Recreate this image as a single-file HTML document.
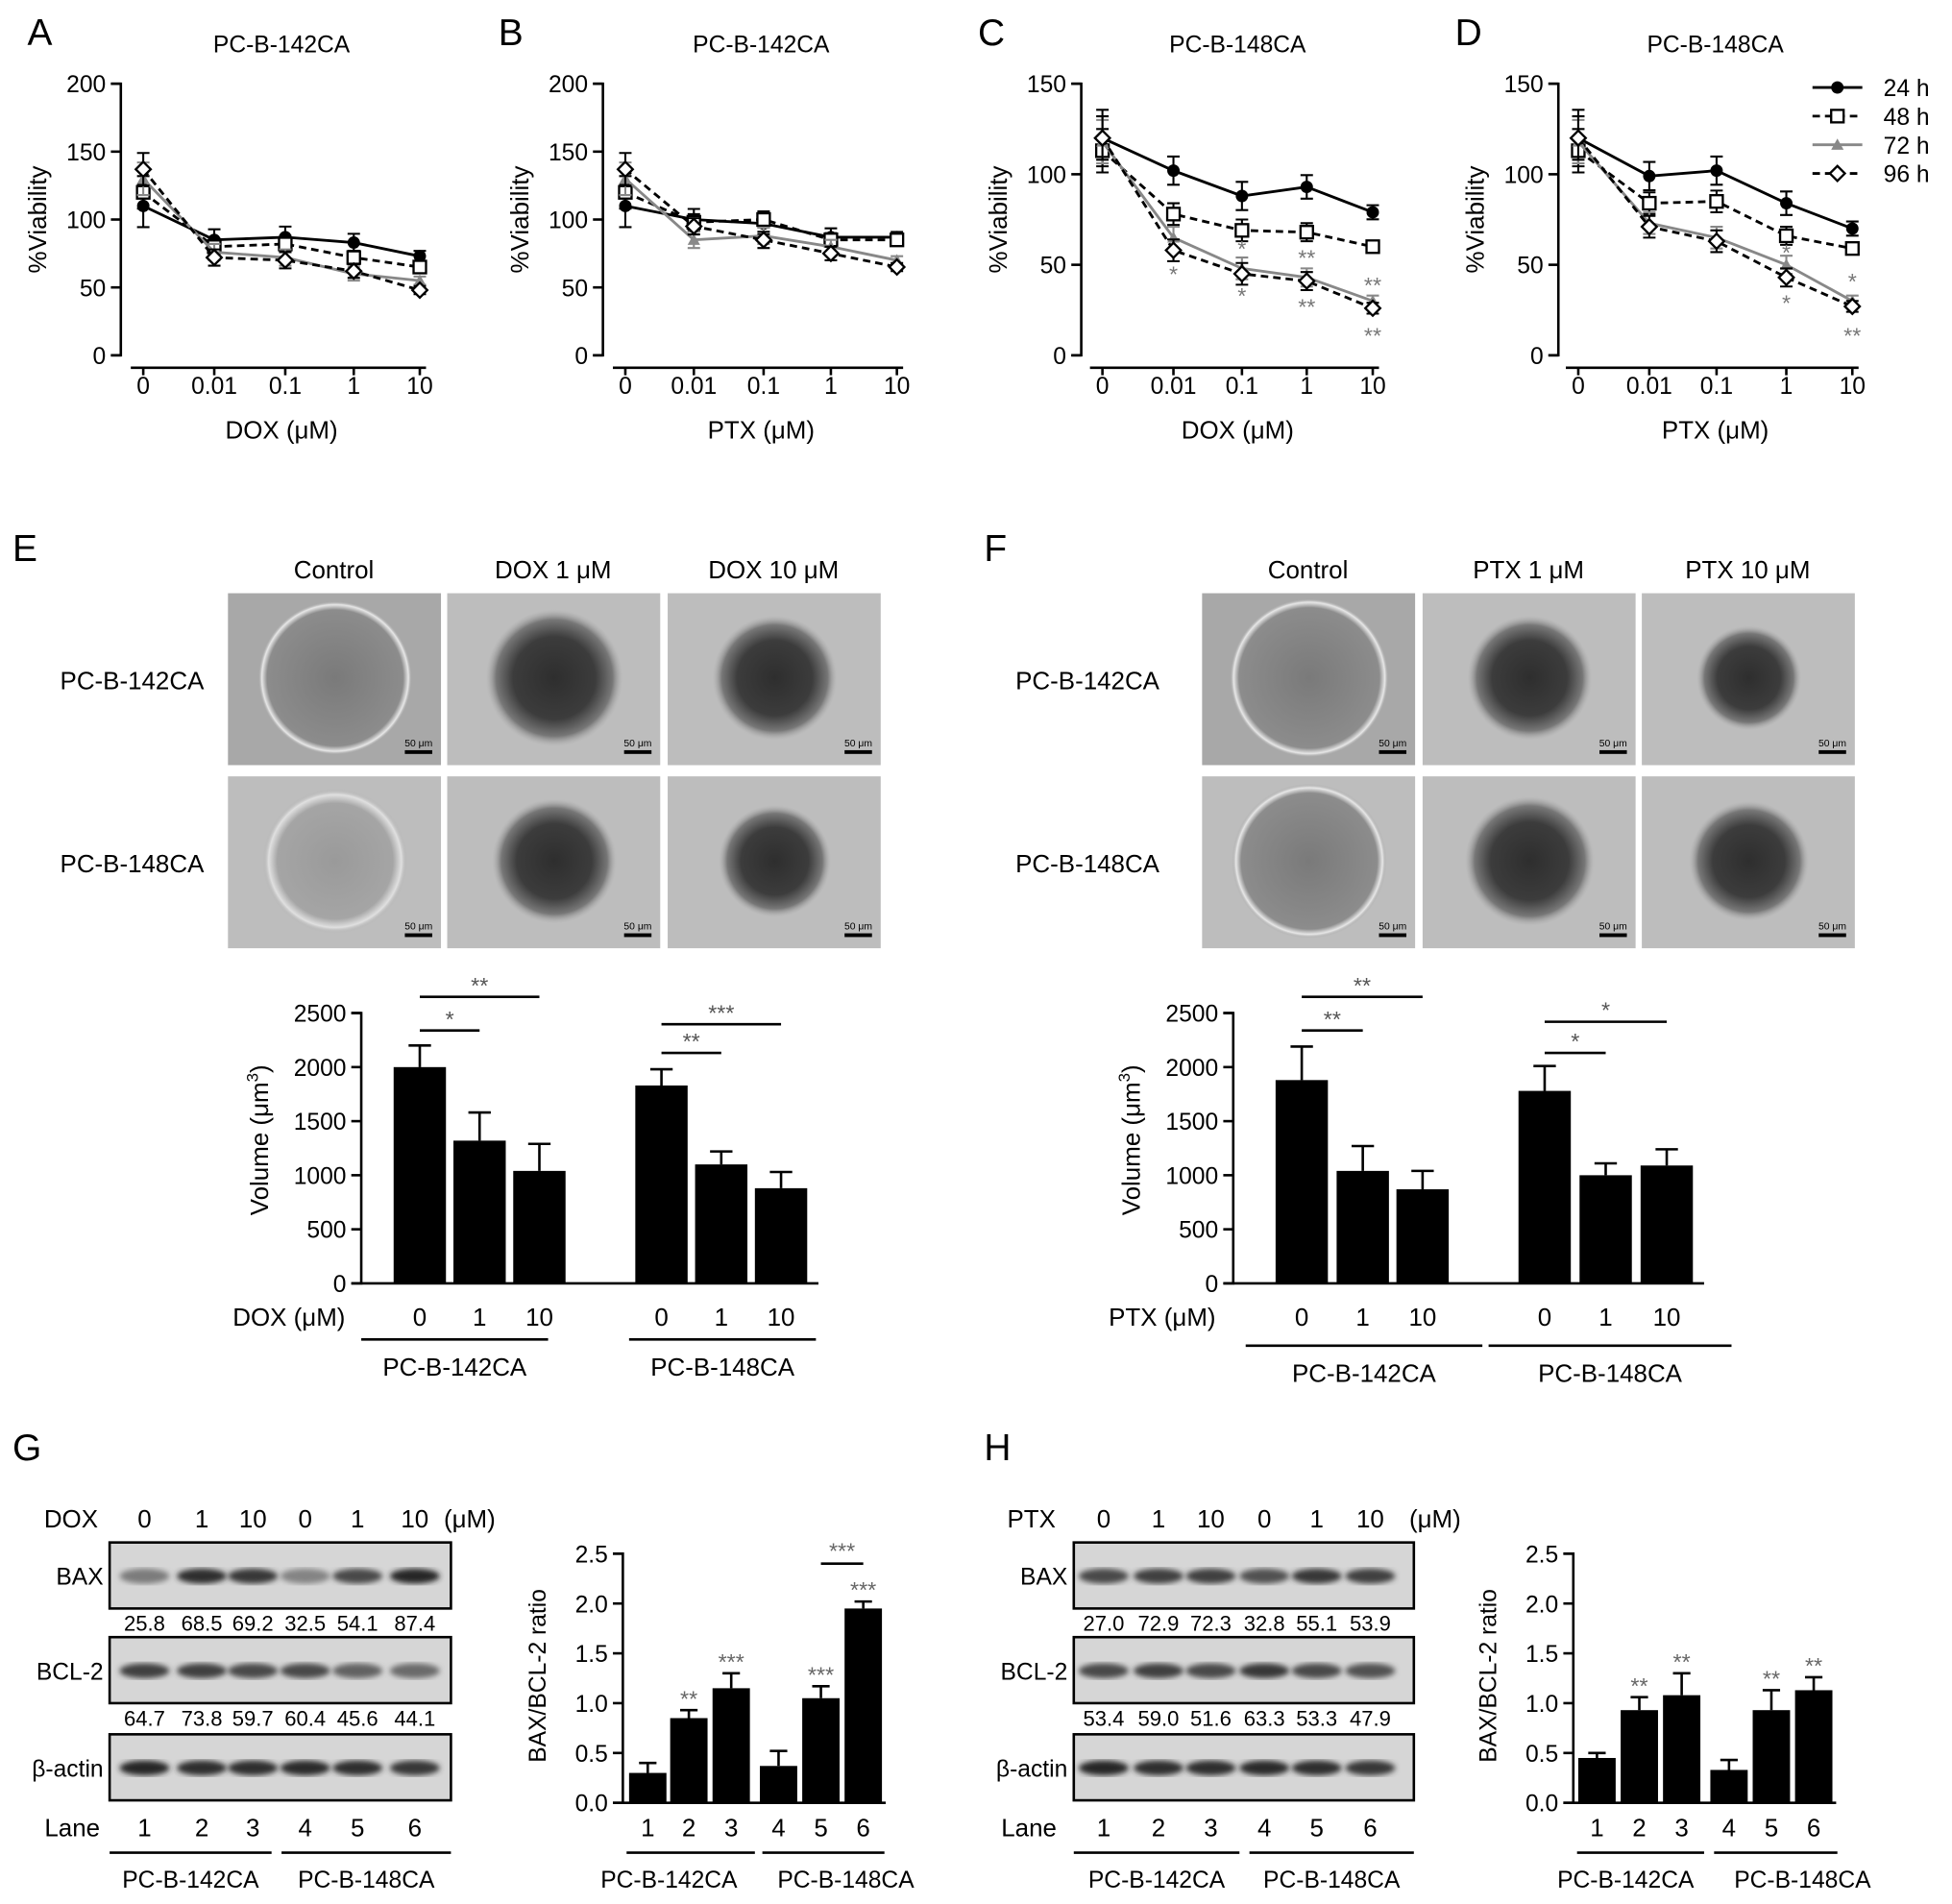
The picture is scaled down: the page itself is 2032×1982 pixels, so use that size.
<!DOCTYPE html>
<html><head><meta charset="utf-8">
<style>
html,body{margin:0;padding:0;background:#fff;}
svg{display:block;font-family:"Liberation Sans",Arial,sans-serif;}
</style></head>
<body>
<svg id="fig" width="2032" height="1982" viewBox="0 0 1567 1528" xmlns="http://www.w3.org/2000/svg">
<defs>
<radialGradient id="sphCtrl" cx="50%" cy="50%" r="50%">
<stop offset="0%" stop-color="#7a7a7a"/><stop offset="88%" stop-color="#8c8c8c"/><stop offset="95%" stop-color="#e8e8e8"/><stop offset="100%" stop-color="#9a9a9a" stop-opacity="0"/>
</radialGradient>
<radialGradient id="sphDark" cx="50%" cy="50%" r="50%">
<stop offset="0%" stop-color="#2e2e2e"/><stop offset="60%" stop-color="#3c3c3c"/><stop offset="85%" stop-color="#777"/><stop offset="100%" stop-color="#aaa" stop-opacity="0"/>
</radialGradient>
<radialGradient id="sphLoose" cx="50%" cy="50%" r="50%">
<stop offset="0%" stop-color="#9a9a9a"/><stop offset="80%" stop-color="#a5a5a5"/><stop offset="92%" stop-color="#e0e0e0"/><stop offset="100%" stop-color="#aaa" stop-opacity="0"/>
</radialGradient>
<filter id="blur2"><feGaussianBlur stdDeviation="2.2"/></filter>
</defs>
</svg>
<script>
// ---------- data ----------
const lineCats = ['0','0.01','0.1','1','10'];
const A24=[110,85,87,83,73], A48=[120,80,82,72,65], A72=[130,76,72,60,55], A96=[137,72,70,62,48];
const B24=[110,100,97,87,87], B48=[120,98,100,85,85], B72=[130,85,88,80,70], B96=[137,95,85,75,65];
const C24=[120,102,88,93,79], C48=[113,78,69,68,60], C72=[118,65,48,43,30], C96=[120,58,45,41,26];
const D24=[120,99,102,84,70], D48=[113,84,85,66,59], D72=[118,73,65,50,30], D96=[120,71,63,43,27];
const errLine=[12,6,6,5,3];
const volE=[2000,1320,1040,1830,1100,880], volEerr=[200,260,250,150,120,150];
const volF=[1880,1040,870,1780,1000,1090], volFerr=[310,230,170,230,110,150];
const volCats=['0','1','10','0','1','10'];
const ratioG=[0.3,0.85,1.15,0.37,1.05,1.95], ratioGerr=[0.1,0.08,0.15,0.15,0.12,0.07];
const ratioH=[0.45,0.93,1.08,0.33,0.93,1.13], ratioHerr=[0.05,0.13,0.22,0.1,0.2,0.13];
const laneCats=['1','2','3','4','5','6'];
const gBAX=['25.8','68.5','69.2','32.5','54.1','87.4'], gBCL=['64.7','73.8','59.7','60.4','45.6','44.1'];
const hBAX=['27.0','72.9','72.3','32.8','55.1','53.9'], hBCL=['53.4','59.0','51.6','63.3','53.3','47.9'];

const svg=document.getElementById('fig');
const NS='http://www.w3.org/2000/svg';
function mk(tag,at,par){const e=document.createElementNS(NS,tag);for(const k in at)e.setAttribute(k,at[k]);(par||svg).appendChild(e);return e;}
function txt(s,x,y,size,anchor,par,extra){const t=mk('text',Object.assign({x:x,y:y,'font-size':size,'text-anchor':anchor||'middle',fill:'#000'},extra||{}),par);t.textContent=s;return t;}

// panel letters
[['A',22,36],['B',400,36],['C',785,36],['D',1168,36],['E',10,450],['F',790,450],['G',10,1172],['H',790,1172]].forEach(p=>{
 const t=txt(p[0],p[1],p[2],30,'start');
 
 
});

// ---------- line charts ----------
function lineChart(o){
 const g=mk('g',{});
 
 
 const y0=285,yt=67;
 const ys=v=>y0-v*(y0-yt)/o.max;
 const xs=i=>o.xc[i];
 const ax=mk('path',{d:`M${o.ax-8} ${yt} H${o.ax} V${y0} H${o.ax-8}`,stroke:'#000','stroke-width':2,fill:'none'},g);
 
 
 for(let v=0;v<=o.max;v+=50){
  mk('line',{x1:o.ax-8,x2:o.ax,y1:ys(v),y2:ys(v),stroke:'#000','stroke-width':2},g);
  const t=txt(String(v),o.ax-12,ys(v)+7,19,'end',g);
  
  
 }
 const xa=mk('line',{x1:o.xc[0]-10,x2:o.xc[4]+5,y1:295,y2:295,stroke:'#000','stroke-width':2},g);
 
 
 lineCats.forEach((c,i)=>{
  mk('line',{x1:xs(i),x2:xs(i),y1:295,y2:301,stroke:'#000','stroke-width':2},g);
  const t=txt(c,xs(i),316,19,'middle',g);
  
  
 });
 const xt=txt(o.xt,(o.xc[0]+o.xc[4])/2,352,20,'middle',g);
 
 
 const yl=txt('%Viability',0,0,20,'middle',g,{transform:`translate(${o.ax-60},176) rotate(-90)`});
 
 
 const ti=txt(o.title,(o.xc[0]+o.xc[4])/2,42,19,'middle',g);
 
 
 const styles=[
  {d:'',c:'#000',m:'circle'},{d:'6 4',c:'#000',m:'square'},{d:'',c:'#888',m:'tri'},{d:'6 4',c:'#000',m:'diamond'}];
 o.series.forEach((s,si)=>{
  const st=styles[si];
  const pts=s.map((v,i)=>xs(i)+','+ys(v)).join(' ');
  s.forEach((v,i)=>{
   const e=errLine[i]*(si===0?1.3:1);
   mk('path',{d:`M${xs(i)} ${ys(v+e)} V${ys(v-e)} M${xs(i)-5} ${ys(v+e)} H${xs(i)+5} M${xs(i)-5} ${ys(v-e)} H${xs(i)+5}`,stroke:st.c,'stroke-width':1.6,fill:'none'},g);
  });
  const pl=mk('polyline',{points:pts,fill:'none',stroke:st.c,'stroke-width':2.2,'stroke-dasharray':st.d},g);
  
  
  s.forEach((v,i)=>{
   const x=xs(i),y=ys(v);let m;
   if(st.m==='circle')m=mk('circle',{cx:x,cy:y,r:5,fill:'#000'},g);
   else if(st.m==='square')m=mk('rect',{x:x-5,y:y-5,width:10,height:10,fill:'#fff',stroke:'#000','stroke-width':1.8},g);
   else if(st.m==='tri')m=mk('path',{d:`M${x} ${y-5} L${x+5} ${y+4} L${x-5} ${y+4}Z`,fill:'#888'},g);
   else m=mk('path',{d:`M${x} ${y-6} L${x+6} ${y} L${x} ${y+6} L${x-6} ${y}Z`,fill:'#fff',stroke:'#000','stroke-width':1.8},g);
   
   
  });
 });
 (o.stars||[]).forEach(s=>{
  const t=txt(s[1],xs(s[0]),ys(s[2])+8,18,'middle',g,{fill:'#777'});
  
  
 });
}
lineChart({id:'a',ax:97,max:200,xc:[115,172,229,284,337],xt:'DOX (μM)',title:'PC-B-142CA',series:[A24,A48,A72,A96]});
lineChart({id:'b',ax:484,max:200,xc:[502,557,613,667,720],xt:'PTX (μM)',title:'PC-B-142CA',series:[B24,B48,B72,B96]});
lineChart({id:'c',ax:868,max:150,xc:[885,942,997,1049,1102],xt:'DOX (μM)',title:'PC-B-148CA',series:[C24,C48,C72,C96],
 stars:[[1,'*',46],[2,'*',60],[2,'*',34],[3,'**',55],[3,'**',28],[4,'**',40],[4,'**',12]]});
lineChart({id:'d',ax:1251,max:150,xc:[1267,1324,1378,1434,1487],xt:'PTX (μM)',title:'PC-B-148CA',series:[D24,D48,D72,D96],
 stars:[[3,'*',58],[3,'*',30],[4,'*',42],[4,'**',12]]});

// legend
(function(){
 const g=mk('g',{});
 
 
 const labs=['24 h','48 h','72 h','96 h'];
 labs.forEach((l,i)=>{
  const y=70+i*23;
  const c=i===2?'#888':'#000';
  mk('line',{x1:1455,x2:1495,y1:y,y2:y,stroke:c,'stroke-width':2.2,'stroke-dasharray':(i%2)?'6 4':''},g);
  const x=1475;
  if(i===0)mk('circle',{cx:x,cy:y,r:5,fill:'#000'},g);
  if(i===1)mk('rect',{x:x-5,y:y-5,width:10,height:10,fill:'#fff',stroke:'#000','stroke-width':1.8},g);
  if(i===2)mk('path',{d:`M${x} ${y-5} L${x+5} ${y+4} L${x-5} ${y+4}Z`,fill:'#888'},g);
  if(i===3)mk('path',{d:`M${x} ${y-6} L${x+6} ${y} L${x} ${y+6} L${x-6} ${y}Z`,fill:'#fff',stroke:'#000','stroke-width':1.8},g);
  const t=txt(l,1512,y+7,19,'start',g);
  
  
 });
})();

// ---------- micrographs ----------
function micro(id,xs,heads,rowLab,kinds){
 const g=mk('g',{});
 
 
 heads.forEach((h,i)=>{
  const t=txt(h,xs[i]+85,464,20,'middle',g);
  
  
 });
 [['PC-B-142CA',476],['PC-B-148CA',623]].forEach((r,ri)=>{
  const t=txt(r[0],rowLab,r[1]+77,20,'middle',g);
  
  
  xs.forEach((x,ci)=>{
   const bg=mk('rect',{x:x,y:r[1],width:171,height:138,fill:ri===0&&ci===0?'#a8a8a8':'#bdbdbd'},g);
   
   
   const k=kinds[ri][ci];
   const rad=k[1];
   mk('circle',{cx:x+86,cy:r[1]+68,r:rad,fill:`url(#${k[0]})`},g);
   mk('rect',{x:x+142,y:r[1]+126,width:22,height:3,fill:'#000'},g);
   txt('50 μm',x+153,r[1]+123,8,'middle',g);
  });
 });
}
micro('e',[183,359,536],['Control','DOX 1 μM','DOX 10 μM'],106,
 [[['sphCtrl',62],['sphDark',55],['sphDark',50]],[['sphLoose',58],['sphDark',50],['sphDark',45]]]);
micro('f',[965,1142,1318],['Control','PTX 1 μM','PTX 10 μM'],873,
 [[['sphCtrl',64],['sphDark',50],['sphDark',42]],[['sphCtrl',62],['sphDark',52],['sphDark',48]]]);

// ---------- volume bar charts ----------
function volChart(o){
 const g=mk('g',{});
 
 
 const y0=1030,yt=813,max=2500;
 const ys=v=>y0-v*(y0-yt)/max;
 mk('path',{d:`M${o.ax-8} ${yt} H${o.ax} V${y0} H${o.ax-8}`,stroke:'#000','stroke-width':2,fill:'none'},g);
 for(let v=0;v<=max;v+=500){
  mk('line',{x1:o.ax-8,x2:o.ax,y1:ys(v),y2:ys(v),stroke:'#000','stroke-width':2},g);
  const t=txt(String(v),o.ax-12,ys(v)+7,19,'end',g);
  
  
 }
 mk('line',{x1:o.ax,x2:o.xc[5]+30,y1:y0,y2:y0,stroke:'#000','stroke-width':2},g);
 const yl=txt('Volume (μm',0,0,20,'middle',g,{transform:`translate(${o.ax-75},915) rotate(-90)`});
 const sup=document.createElementNS(NS,'tspan');sup.setAttribute('font-size',13);sup.setAttribute('dy',-8);sup.textContent='3';yl.appendChild(sup);
 const cl=document.createElementNS(NS,'tspan');cl.setAttribute('dy',8);cl.textContent=')';yl.appendChild(cl);
 
 
 o.vals.forEach((v,i)=>{
  const x=o.xc[i],e=o.err[i];
  mk('path',{d:`M${x} ${ys(v)} V${ys(v+e)} M${x-9} ${ys(v+e)} H${x+9}`,stroke:'#000','stroke-width':2},g);
  const b=mk('rect',{x:x-21,y:ys(v),width:42,height:y0-ys(v),fill:'#000'},g);
  
  
  const t=txt(volCats[i],x,1064,20,'middle',g);
  
  
 });
 const xt=txt(o.xt,o.xtx,1064,20,'middle',g);
 
 
 o.groups.forEach(gr=>{
  mk('line',{x1:gr[0],x2:gr[1],y1:gr[2],y2:gr[2],stroke:'#000','stroke-width':2},g);
  const t=txt(gr[3],(gr[0]+gr[1])/2,gr[2]+29,20,'middle',g);
  
  
 });
 o.sig.forEach(s=>{
  mk('line',{x1:o.xc[s[0]],x2:o.xc[s[1]],y1:s[2],y2:s[2],stroke:'#000','stroke-width':2},g);
  const t=txt(s[3],(o.xc[s[0]]+o.xc[s[1]])/2,s[2]-3,18,'middle',g,{fill:'#555'});
  
  
 });
}
volChart({id:'e',ax:290,xc:[337,385,433,531,579,627],vals:volE,err:volEerr,xt:'DOX (μM)',xtx:232,
 groups:[[290,440,1075,'PC-B-142CA'],[505,655,1075,'PC-B-148CA']],
 sig:[[0,1,827,'*'],[0,2,800,'**'],[3,4,845,'**'],[3,5,822,'***']]});
volChart({id:'f',ax:990,xc:[1045,1094,1142,1240,1289,1338],vals:volF,err:volFerr,xt:'PTX (μM)',xtx:933,
 groups:[[1000,1190,1080,'PC-B-142CA'],[1195,1390,1080,'PC-B-148CA']],
 sig:[[0,1,827,'**'],[0,2,800,'**'],[3,4,845,'*'],[3,5,820,'*']]});

// ---------- western blots ----------
function blot(o){
 const g=mk('g',{});
 
 
 const t0=txt(o.drug,o.drugx,1226,20,'middle',g);
 
 
 ['0','1','10','0','1','10'].forEach((c,i)=>{const t=txt(c,o.lx[i],1226,20,'middle',g);
  
  });
 txt('(μM)',o.umx,1226,20,'middle',g);
 const rows=[['BAX',1238,o.bax,o.baxI],['BCL-2',1314,o.bcl,o.bclI],['β-actin',1392,null,[0.95,0.9,0.9,0.92,0.9,0.85]]];
 rows.forEach(r=>{
  const lb=txt(r[0],o.bx0-5,r[1]+34,19,'end',g);
  
  
  const box=mk('rect',{x:o.bx0,y:r[1],width:o.bx1-o.bx0,height:53,fill:'#d6d6d6',stroke:'#000','stroke-width':2},g);
  
  
  r[3].forEach((d,i)=>{
   const sh=Math.round(200-170*d);
   const band=mk('ellipse',{cx:o.lx[i],cy:r[1]+27,rx:20,ry:6,fill:`rgb(${sh},${sh},${sh})`,filter:'url(#blur2)'},g);
   
   
  });
  if(r[2])r[2].forEach((v,i)=>{const t=txt(v,o.lx[i],r[1]+71,17,'middle',g);
   
   });
 });
 const ln=txt('Lane',o.lanex,1474,20,'middle',g);
 
 
 laneCats.forEach((c,i)=>{const t=txt(c,o.lx[i],1474,20,'middle',g);
  
  });
 o.groups.forEach(gr=>{
  mk('line',{x1:gr[0],x2:gr[1],y1:1487,y2:1487,stroke:'#000','stroke-width':2},g);
  const t=txt(gr[2],(gr[0]+gr[1])/2,1515,19,'middle',g);
  
  
 });
}
blot({id:'g',drug:'DOX',drugx:57,lx:[116,162,203,245,287,333],umx:377,bx0:88,bx1:362,lanex:58,
 bax:gBAX,bcl:gBCL,baxI:[0.45,0.9,0.85,0.4,0.75,0.95],bclI:[0.8,0.8,0.75,0.75,0.6,0.55],
 groups:[[88,218,'PC-B-142CA'],[226,362,'PC-B-148CA']]});
blot({id:'h',drug:'PTX',drugx:828,lx:[886,930,972,1015,1057,1100],umx:1152,bx0:862,bx1:1135,lanex:826,
 bax:hBAX,bcl:hBCL,baxI:[0.75,0.8,0.8,0.7,0.85,0.8],bclI:[0.75,0.8,0.75,0.85,0.75,0.7],
 groups:[[862,995,'PC-B-142CA'],[1003,1135,'PC-B-148CA']]});

// ---------- ratio bar charts ----------
function ratioChart(o){
 const g=mk('g',{});
 
 
 const y0=1447,yt=1247,max=2.5;
 const ys=v=>y0-v*(y0-yt)/max;
 mk('path',{d:`M${o.ax-8} ${yt} H${o.ax} V${y0} H${o.ax-8}`,stroke:'#000','stroke-width':2,fill:'none'},g);
 for(let k=0;k<=5;k++){const v=k*0.5;
  mk('line',{x1:o.ax-8,x2:o.ax,y1:ys(v),y2:ys(v),stroke:'#000','stroke-width':2},g);
  const t=txt(v.toFixed(1),o.ax-12,ys(v)+7,19,'end',g);
  
  
 }
 mk('line',{x1:o.ax,x2:o.xc[5]+18,y1:y0,y2:y0,stroke:'#000','stroke-width':2},g);
 const yl=txt('BAX/BCL-2 ratio',0,0,19,'middle',g,{transform:`translate(${o.ax-62},1345) rotate(-90)`});
 
 
 o.vals.forEach((v,i)=>{
  const x=o.xc[i],e=o.err[i];
  mk('path',{d:`M${x} ${ys(v)} V${ys(v+e)} M${x-7} ${ys(v+e)} H${x+7}`,stroke:'#000','stroke-width':2},g);
  const b=mk('rect',{x:x-15,y:ys(v),width:30,height:y0-ys(v),fill:'#000'},g);
  
  
  const t=txt(laneCats[i],x,1474,20,'middle',g);
  
  
  if(o.stars[i]){const s=txt(o.stars[i],x,ys(v+e)-3,18,'middle',g,{fill:'#666'});
   
   }
 });
 o.groups.forEach(gr=>{
  mk('line',{x1:gr[0],x2:gr[1],y1:1487,y2:1487,stroke:'#000','stroke-width':2},g);
  const t=txt(gr[2],gr[3],1515,19,'middle',g);
  
  
 });
 if(o.bracket){mk('line',{x1:o.xc[4],x2:o.xc[5],y1:1255,y2:1255,stroke:'#000','stroke-width':2},g);
  const t=txt('***',(o.xc[4]+o.xc[5])/2,1251,18,'middle',g,{fill:'#666'});
  
  }
}
ratioChart({id:'g',ax:500,xc:[520,553,587,625,659,693],vals:ratioG,err:ratioGerr,stars:['','**','***','','***','***'],
 groups:[[503,606,'PC-B-142CA',537],[612,710,'PC-B-148CA',679]],bracket:true});
ratioChart({id:'h',ax:1263,xc:[1282,1316,1350,1388,1422,1456],vals:ratioH,err:ratioHerr,stars:['','**','**','','**','**'],
 groups:[[1266,1368,'PC-B-142CA',1305],[1376,1475,'PC-B-148CA',1447]]});
</script>
</body></html>
